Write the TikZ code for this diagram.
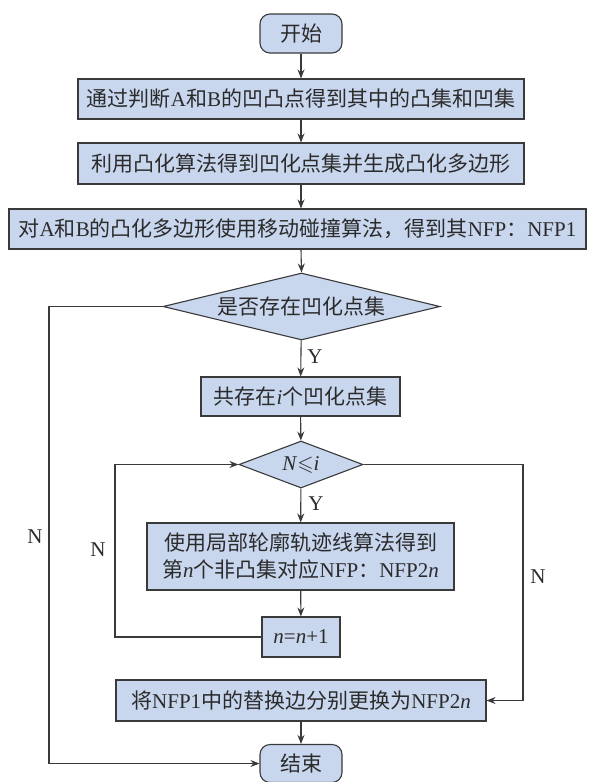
\documentclass[tikz,border=0pt]{standalone}
\usepackage{amsmath,amssymb}
\usepackage{fontspec}
\setmainfont{Liberation Serif}
\newfontfamily\cjk{Noto Sans CJK SC}
\usepackage{xcolor}
\usetikzlibrary{shapes.geometric,arrows.meta}
\definecolor{boxfill}{HTML}{C8D6EE}
\definecolor{edge}{HTML}{3A3A3A}
\definecolor{ink}{HTML}{2B2B2B}
\newcommand{\zh}[1]{{\cjk #1}}
\tikzset{
  base/.style={draw=edge, line width=1.1pt, fill=boxfill, text=ink, inner sep=0pt,
    font=\fontsize{21}{27}\selectfont, align=center},
  proc/.style={base, rectangle},
  term/.style={base, rectangle, rounded corners=10pt},
  cond/.style={base, diamond},
  wire/.style={draw=edge, line width=1.1pt},
  link/.style={wire, -{Stealth[length=9pt,width=7pt]}},
  lab/.style={text=ink, font=\fontsize{21}{27}\selectfont, inner sep=0pt},
}

\begin{document}
\begin{tikzpicture}[x=1pt,y=-1pt]
  \useasboundingbox (0,0) rectangle (590,782);

  % main column
  \node[term, minimum width=82pt, minimum height=39pt] (start) at (301,33.5) {\zh{开始}};
  \node[proc, minimum width=446pt, minimum height=40pt] (s1) at (301,99)
    {\zh{通过判断}A\zh{和}B\zh{的凹凸点得到其中的凸集和凹集}};
  \node[proc, minimum width=446pt, minimum height=41pt] (s2) at (301,163.5)
    {\zh{利用凸化算法得到凹化点集并生成凸化多边形}};
  \node[proc, minimum width=577pt, minimum height=40pt] (s3) at (297.5,229)
    {\zh{对}A\zh{和}B\zh{的凸化多边形使用移动碰撞算法，得到其}NFP\zh{：}NFP1};
  \node[cond, aspect=4, minimum width=277pt, minimum height=67pt] (d1) at (301.5,306.5)
    {\zh{是否存在凹化点集}};
  \node[proc, minimum width=199pt, minimum height=39pt] (s4) at (300.5,396.5)
    {\zh{共存在}\textit{i}\zh{个凹化点集}};
  \node[cond, aspect=2.6, minimum width=124pt, minimum height=47pt] (d2) at (301,464.5)
    {\textit{N}$\leqslant$\textit{i}};
  \node[proc, minimum width=307pt, minimum height=67pt] (s5) at (300.5,556.5)
    {\zh{使用局部轮廓轨迹线算法得到}\\\zh{第}\textit{n}\zh{个非凸集对应}NFP\zh{：}NFP2\textit{n}};
  \node[proc, minimum width=78pt, minimum height=40pt] (s6) at (301,637)
    {\textit{n}=\textit{n}+1};
  \node[proc, minimum width=370pt, minimum height=41pt] (s7) at (301,700.5)
    {\zh{将}NFP1\zh{中的替换边分别更换为}NFP2\textit{n}};
  \node[term, minimum width=82pt, minimum height=38pt] (end) at (301,763.5) {\zh{结束}};

  % straight links
  \draw[link] (start) -- (s1);
  \draw[link] (s1) -- (s2);
  \draw[link] (s2.south) -- (s2.south |- s3.north);
  \draw[link] (s2.south |- s3.south) -- (d1.north);
  \draw[link] (d1) -- (s4);
  \draw[link] (s4) -- (d2);
  \draw[link] (d2) -- (s5);
  \draw[link] (s5) -- (s6);
  \draw[link] (s7) -- (end);

  % loops
  \coordinate (lft) at (49,0);
  \coordinate (inl) at (115,0);
  \coordinate (inr) at (523,0);
  \draw[link] (d1.west) -- (d1.west -| lft) |- (end.west);
  \draw[link] (s6.west) -- (s6.west -| inl) |- (d2.west);
  \draw[link] (d2.east) -- (d2.east -| inr) |- (s7.east);

  % branch labels
  \node[lab] (y1) at (315,357) {Y};
  \node[lab] (y2) at (316,504) {Y};
  \node[lab] (n1) at (35,537) {N};
  \node[lab] (n2) at (98,550) {N};
  \node[lab] (n3) at (538,577) {N};
\end{tikzpicture}
\end{document}
